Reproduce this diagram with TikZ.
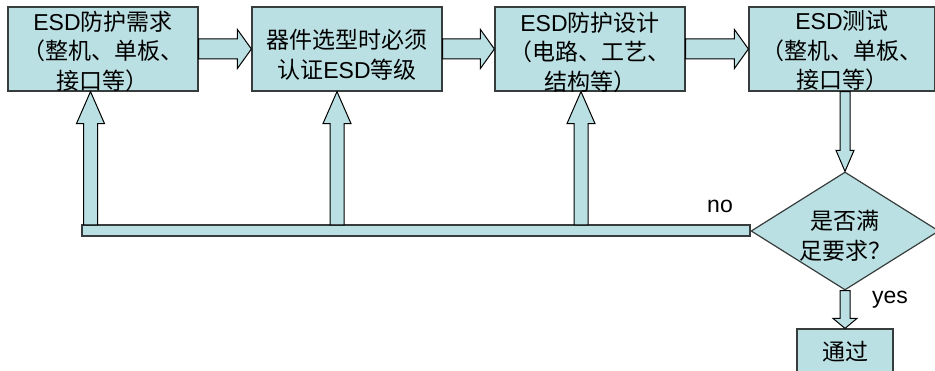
\documentclass[tikz,border=0pt]{standalone}
\usepackage{fontspec}
\setmainfont{Liberation Sans}
\newfontfamily\cjk{Noto Sans CJK SC}
\usetikzlibrary{calc,shapes.geometric}
\newcommand{\zh}[1]{{\cjk #1}}
\definecolor{fillc}{RGB}{187,224,227}
\definecolor{linec}{RGB}{55,60,60}
\newcommand{\blockv}[5]{\draw[blk] ($(#1)+(-#3,0)$) -- ($(#2)+(-#3,#5)$) -- ($(#2)+(-#4,#5)$) -- (#2) -- ($(#2)+(#4,#5)$) -- ($(#2)+(#3,#5)$) -- ($(#1)+(#3,0)$) -- cycle;}
\newcommand{\blockh}[5]{\draw[blk] ($(#1)+(0,-#3)$) -- ($(#2)+(-#5,-#3)$) -- ($(#2)+(-#5,-#4)$) -- (#2) -- ($(#2)+(-#5,#4)$) -- ($(#2)+(-#5,#3)$) -- ($(#1)+(0,#3)$) -- cycle;}
\begin{document}
\begin{tikzpicture}[x=1pt,y=-1pt,
  box/.style={draw=linec, fill=fillc, line width=1.2pt, inner sep=0pt, minimum height=84pt},
  blk/.style={draw=black, fill=fillc, line width=1pt, line join=miter},
  lbl/.style={align=center, inner sep=0pt, font=\fontsize{23}{29.5}\selectfont},
  yn/.style={inner sep=0pt, font=\fontsize{23}{27}\selectfont}]
\useasboundingbox (0,0) rectangle (935,371);
\clip (0,0) rectangle (935,371);
% boxes
\node[box, minimum width=190pt] (b1) at (103,49) {};
\node[box, minimum width=190pt] (b2) at (347,49) {};
\node[box, minimum width=190pt] (b3) at (590,49) {};
\node[box, minimum width=185.5pt] (b4) at (841.75,49) {};
% bar and decision
\node[draw=linec, fill=fillc, line width=1.2pt, inner sep=0pt, minimum width=668pt, minimum height=11pt] (bar) at (416,230.5) {};
\node[diamond, draw=linec, fill=fillc, line width=1.2pt, inner sep=0pt, minimum width=188pt, minimum height=118pt] (d) at (845,231) {};
\node[box, minimum width=96pt, minimum height=62pt] (pass) at (845,360) {};
% horizontal block arrows
\blockh{b1.east}{b2.west}{10}{19.5}{14}
\blockh{b2.east}{b3.west}{10}{19.5}{14}
\blockh{b3.east}{b4.west}{10}{19.5}{14}
% feedback up arrows
\coordinate (u1) at (90.5,224.8);
\coordinate (u2) at (337,224.8);
\coordinate (u3) at (581,224.8);
\coordinate (a1) at (u1 |- b1.south);
\coordinate (a2) at (u2 |- b2.south);
\coordinate (a3) at (u3 |- b3.south);
\blockv{u1}{a1}{7}{14}{32}
\blockv{u2}{a2}{7}{14}{32}
\blockv{u3}{a3}{7}{14}{32}
% down arrows
\coordinate (s4) at (d.north |- b4.south);
\blockv{s4}{d.north}{5}{9}{-21}
\blockv{d.south}{pass.north}{5}{12}{-10}
% texts
\node[lbl] (t1) at (103,51) {ESD\zh{防护需求}\\\zh{（整机、单板、}\\\zh{接口等）}};
\node[lbl] (t2) at (347,55) {\zh{器件选型时必须}\\\zh{认证}ESD\zh{等级}};
\node[lbl] (t3) at (590,52) {ESD\zh{防护设计}\\\zh{（电路、工艺、}\\\zh{结构等）}};
\node[lbl] (t4) at (842,51) {ESD\zh{测试}\\\zh{（整机、单板、}\\\zh{接口等）}};
\node[lbl] (td) at (845,236) {\zh{是否满}\\\zh{足要求？}};
\node[lbl] (tp) at (845,352) {\zh{通过}};
\node[yn] (no) at (720,206) {no};
\node[yn] (yes) at (890,300) {yes};
\end{tikzpicture}
\end{document}
